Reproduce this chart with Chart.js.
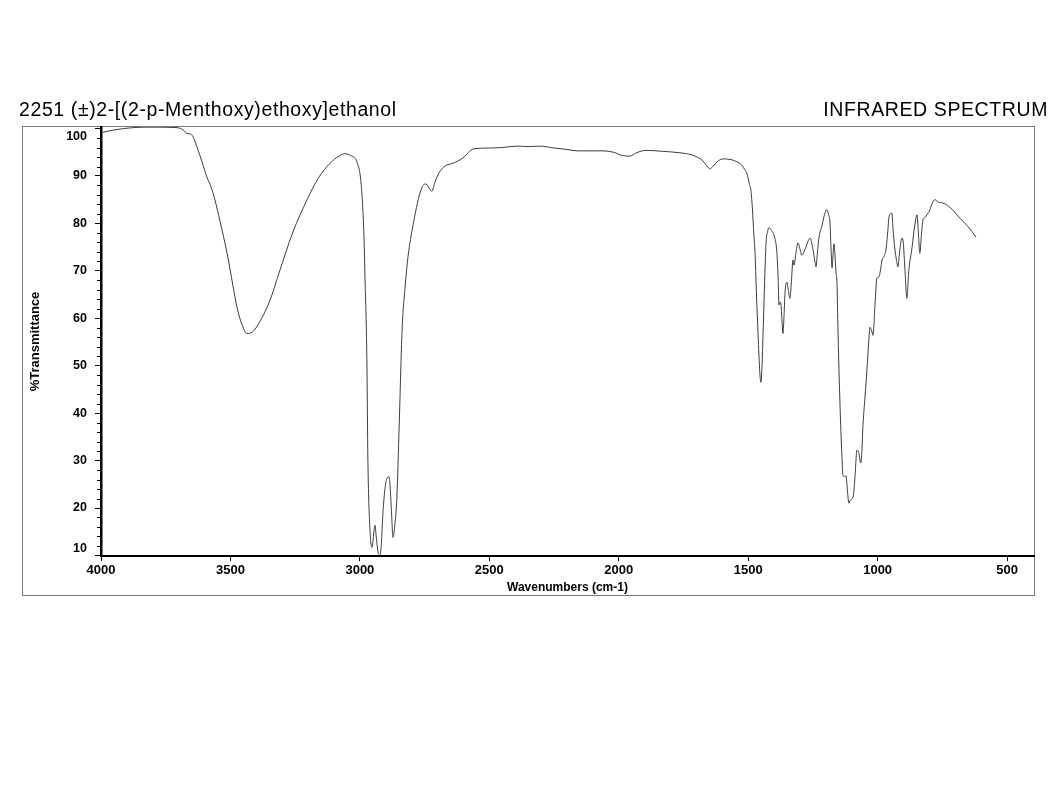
<!DOCTYPE html>
<html>
<head>
<meta charset="utf-8">
<script src="https://cdn.jsdelivr.net/npm/chart.js@4.4.1/dist/chart.umd.min.js"></script>
<style>
  html, body { margin: 0; padding: 0; background: #fff; }
  #wrap { position: relative; width: 1064px; height: 790px; }
  .ttl { position: absolute; font-family: 'Liberation Sans', Arial, sans-serif; font-size: 19.5px; letter-spacing: 0.6px; line-height: 1; color: #000; white-space: nowrap; }
</style>
</head>
<body>
<div id="wrap">
  <canvas id="irChart" width="1064" height="790"></canvas>
  <div class="ttl" style="left:19px; top:100px;">2251 (±)2-[(2-p-Menthoxy)ethoxy]ethanol</div>
  <div class="ttl" style="right:16px; top:100px;">INFRARED SPECTRUM</div>
</div>
<script>
const wavenumbers = [
  3995, 3950, 3876, 3800, 3706, 3680, 3668, 3650, 3629, 3610, 3591, 3575, 3560, 3540, 3513, 3490, 3475, 3455, 3436, 3415,
  3394, 3350, 3309, 3260, 3204, 3160, 3115, 3080, 3058, 3035, 3011, 2995, 2985, 2980, 2973, 2969, 2961, 2953, 2946, 2942,
  2936, 2928, 2922, 2916, 2911, 2903, 2895, 2888, 2884, 2878, 2872, 2865, 2857, 2848, 2837, 2825, 2814, 2795, 2768, 2749,
  2741, 2730, 2722, 2710, 2695, 2671, 2640, 2602, 2580, 2563, 2500, 2450, 2393, 2350, 2304, 2250, 2200, 2161, 2100, 2061,
  2020, 1985, 1957, 1935, 1910, 1891, 1830, 1764, 1720, 1698, 1675, 1660, 1648, 1635, 1620, 1598, 1570, 1544, 1525, 1513,
  1505, 1495, 1490, 1484, 1478, 1474, 1468, 1462, 1455, 1451, 1447, 1443, 1437, 1431, 1425, 1420, 1410, 1397, 1389, 1384,
  1381, 1377, 1374, 1370, 1366, 1362, 1358, 1350, 1345, 1339, 1333, 1327, 1323, 1316, 1308, 1300, 1293, 1280, 1261, 1250,
  1243, 1238, 1233, 1227, 1215, 1205, 1196, 1190, 1184, 1180, 1176, 1172, 1169, 1165, 1161, 1157, 1153, 1148, 1142, 1138,
  1134, 1128, 1122, 1116, 1111, 1105, 1095, 1088, 1080, 1074, 1065, 1061, 1057, 1049, 1041, 1034, 1030, 1024, 1018, 1010,
  1003, 995, 989, 983, 976, 968, 962, 956, 950, 945, 941, 937, 933, 927, 922, 914, 906, 902, 895, 887,
  880, 867, 857, 848, 844, 837, 831, 825, 818, 810, 798, 789, 779, 765, 748, 730, 713, 700, 682, 650,
  620
];
const transmittance = [
  99.2, 99.7, 100.2, 100.3, 100.2, 99.6, 99.0, 98.7, 96.1, 93.0, 89.8, 87.7, 85.0, 80.4, 73.7, 66.8, 62.4, 58.6, 56.8, 57.1,
  58.6, 63.4, 70.1, 78.0, 85.0, 89.6, 92.7, 94.2, 94.7, 94.3, 92.9, 88.2, 78.5, 68.1, 51.3, 30.0, 15.4, 11.7, 14.9, 16.4,
  13.5, 10.3, 10.1, 13.5, 18.9, 24.1, 26.3, 26.6, 25.2, 19.3, 13.8, 16.4, 22.3, 37.7, 57.5, 66.8, 73.0, 79.5, 86.4, 88.3,
  88.2, 87.2, 86.8, 88.7, 90.6, 92.1, 92.7, 93.8, 95.0, 95.7, 95.9, 96.0, 96.3, 96.2, 96.3, 95.9, 95.6, 95.3, 95.3, 95.3,
  95.0, 94.3, 94.2, 94.8, 95.3, 95.4, 95.2, 94.9, 94.5, 94.0, 93.2, 92.1, 91.5, 92.1, 93.0, 93.6, 93.5, 93.0, 92.3, 91.3,
  90.6, 88.2, 87.2, 83.3, 77.5, 74.4, 64.9, 56.8, 48.4, 46.5, 49.4, 56.1, 66.8, 75.9, 78.3, 79.1, 78.5, 76.9, 73.7, 67.8,
  62.8, 63.4, 63.2, 60.0, 56.8, 60.0, 65.3, 67.6, 65.9, 64.2, 67.8, 72.3, 71.2, 73.6, 75.9, 74.6, 73.3, 74.6, 76.9, 74.6,
  72.2, 70.8, 73.6, 76.9, 79.5, 81.9, 82.9, 81.9, 80.1, 74.6, 70.6, 73.6, 75.7, 73.6, 69.8, 67.4, 57.1, 46.5, 36.4, 30.9,
  26.9, 26.6, 26.8, 23.2, 21.0, 21.7, 22.3, 26.1, 32.2, 31.9, 29.5, 31.9, 37.0, 43.3, 49.4, 55.4, 58.1, 57.6, 56.4, 63.0,
  68.5, 68.7, 70.2, 72.3, 73.0, 74.4, 77.5, 81.4, 82.0, 82.2, 79.3, 76.5, 74.4, 72.2, 70.8, 74.6, 76.9, 76.5, 70.7, 64.2,
  69.8, 75.0, 79.5, 81.8, 79.3, 73.7, 77.5, 80.7, 81.2, 81.8, 82.9, 84.3, 85.0, 84.5, 84.3, 83.8, 83.0, 82.2, 81.1, 79.3,
  77.1
];
const xTickValues = [4000, 3500, 3000, 2500, 2000, 1500, 1000, 500];
const yTickValues = [10, 20, 30, 40, 50, 60, 70, 80, 90, 100];

const FONT = "'Liberation Sans', Arial, sans-serif";
const Y_LABEL_FONT = 'bold 12.5px ' + FONT;

// marco exterior, ticks menores del eje Y y etiquetas de los extremos (100 y 10 van desplazadas hacia dentro)
const framePlugin = {
    id: 'frame',
    beforeDraw(chart) {
        const ctx = chart.ctx;
        ctx.save();
        ctx.strokeStyle = '#7a7a7a';
        ctx.lineWidth = 1;
        ctx.strokeRect(22.5, 126.5, 1034 - 22, 595 - 126);
        ctx.restore();
    },
    afterDraw(chart) {
        const ctx = chart.ctx;
        const y = chart.scales.y;
        ctx.save();
        ctx.strokeStyle = '#000';
        ctx.lineWidth = 1;
        ctx.beginPath();
        for (let v = 12; v < 100; v += 2) {
            if (v % 10 === 0) continue;
            const py = Math.round(y.getPixelForValue(v)) + 0.5;
            ctx.moveTo(y.right - 4, py);
            ctx.lineTo(y.right, py);
        }
        ctx.stroke();

        ctx.fillStyle = '#000';
        ctx.font = Y_LABEL_FONT;
        ctx.textAlign = 'right';
        ctx.textBaseline = 'middle';
        ctx.fillText('100', 87, y.getPixelForValue(100) + 8);
        ctx.fillText('10', 87, y.getPixelForValue(10) - 7);
        ctx.restore();
    }
};

new Chart(document.getElementById('irChart').getContext('2d'), {
    type: 'line',
    data: {
        datasets: [{
            data: wavenumbers.map((w, i) => ({ x: w, y: transmittance[i] })),
            borderColor: '#3c3c3c',
            borderWidth: 1,
            pointRadius: 0,
            cubicInterpolationMode: 'monotone',
            fill: false
        }]
    },
    options: {
        responsive: false,
        animation: false,
        devicePixelRatio: 1,
        layout: { padding: { left: 22, top: 127, right: 30, bottom: 195 } },
        plugins: { legend: { display: false }, tooltip: { enabled: false } },
        scales: {
            x: {
                type: 'linear',
                reverse: true,
                min: 396,
                max: 4000,
                afterBuildTicks: s => { s.ticks = xTickValues.map(v => ({ value: v })); },
                afterFit: s => { s.height = 39; },
                ticks: {
                    color: '#000',
                    padding: 2,
                    maxRotation: 0,
                    autoSkip: false,
                    callback: v => String(v),
                    font: { family: FONT, size: 13, weight: 'bold' }
                },
                grid: { drawOnChartArea: false, drawTicks: true, tickLength: 5, color: '#000' },
                border: { display: true, color: '#000', width: 2 },
                title: {
                    display: true,
                    text: 'Wavenumbers (cm-1)',
                    color: '#000',
                    padding: 0,
                    font: { family: FONT, size: 12, weight: 'bold' }
                }
            },
            y: {
                min: 9.88,
                max: 100.33,
                afterBuildTicks: s => { s.ticks = yTickValues.map(v => ({ value: v })); },
                afterFit: s => { s.width = 79; },
                ticks: {
                    color: '#000',
                    padding: 8,
                    callback: v => (v === 100 || v === 10) ? '' : String(v),
                    font: { family: FONT, size: 12.5, weight: 'bold' }
                },
                grid: { drawOnChartArea: false, drawTicks: true, tickLength: 6, color: '#000' },
                border: { display: true, color: '#000', width: 2.5 },
                title: {
                    display: true,
                    text: '%Transmittance',
                    color: '#000',
                    padding: 6,
                    font: { family: FONT, size: 13, weight: 'bold' }
                }
            }
        }
    },
    plugins: [framePlugin]
});
</script>
</body>
</html>
